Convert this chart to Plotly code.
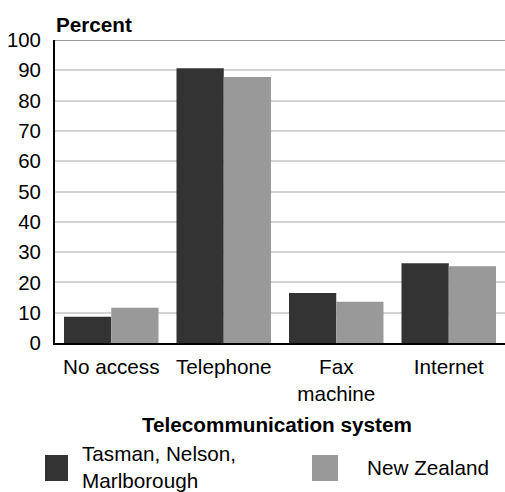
import plotly.graph_objects as go

categories = ["No access", "Telephone", "Fax<br>machine", "Internet"]
series_names = ["Tasman, Nelson,<br>Marlborough", "New Zealand"]
tnm_values = [8.7, 90.7, 16.5, 26.3]
nz_values = [11.6, 87.8, 13.6, 25.3]
colors = ["#333333", "#999999"]
y_ticks = [0, 10, 20, 30, 40, 50, 60, 70, 80, 90, 100]

FONT = "Liberation Sans, Arial, sans-serif"
FS = 20.7

fig = go.Figure()
for name, vals, col in zip(series_names, [tnm_values, nz_values], colors):
    fig.add_trace(go.Bar(x=categories, y=vals, name=name, marker_color=col,
                         marker_line_width=0, showlegend=False))

fig.update_layout(
    width=505, height=492,
    margin=dict(l=55, r=0, t=40, b=149),
    paper_bgcolor="white", plot_bgcolor="white",
    barmode="group", bargap=0.16, bargroupgap=0,
    font=dict(family=FONT, size=FS, color="#000000"),
)
fig.update_yaxes(range=[0, 100], tickvals=y_ticks, showgrid=True,
                 gridcolor="#d3d3d3", gridwidth=1.5, showline=True,
                 linecolor="#000000", linewidth=2, ticks="", ticklabelstandoff=8,
                 zeroline=False, tickfont=dict(size=20.4))
fig.update_xaxes(showline=True, linecolor="#000000", linewidth=2, ticks="",
                 tickfont=dict(size=FS), ticklabelstandoff=4)

# top border line
fig.add_shape(type="line", xref="paper", yref="y", x0=0, x1=1, y0=100, y1=100,
              line=dict(color="#999999", width=2))

fig.add_annotation(text="<b>Percent</b>", xref="paper", yref="paper", x=0, y=1,
                   xanchor="left", yanchor="bottom", xshift=-1, yshift=2, showarrow=False,
                   font=dict(size=FS))
fig.add_annotation(text="<b>Telecommunication system</b>", xref="paper", yref="paper",
                   x=0.5, y=-(424 - 343) / 303, xanchor="center", yanchor="middle",
                   xshift=-3, showarrow=False, font=dict(size=FS))

# manual legend
H = 303.0
def py(pix):
    return (343 - pix) / H
def px(pix):
    return (pix - 55) / 450.0

legend_items = [(45, 68, 80, series_names[0], colors[0]),
                (312, 338, 365, series_names[1], colors[1])]
for x0, x1, tx, name, col in legend_items:
    fig.add_shape(type="rect", xref="paper", yref="paper", x0=px(x0), x1=px(x1),
                  y0=py(481), y1=py(455), fillcolor=col, line_width=0)
    fig.add_annotation(text=name, xref="paper", yref="paper", x=px(tx), y=py(467),
                       xanchor="left", yanchor="middle", align="left",
                       showarrow=False, font=dict(size=FS))

fig.write_html("out.html")
